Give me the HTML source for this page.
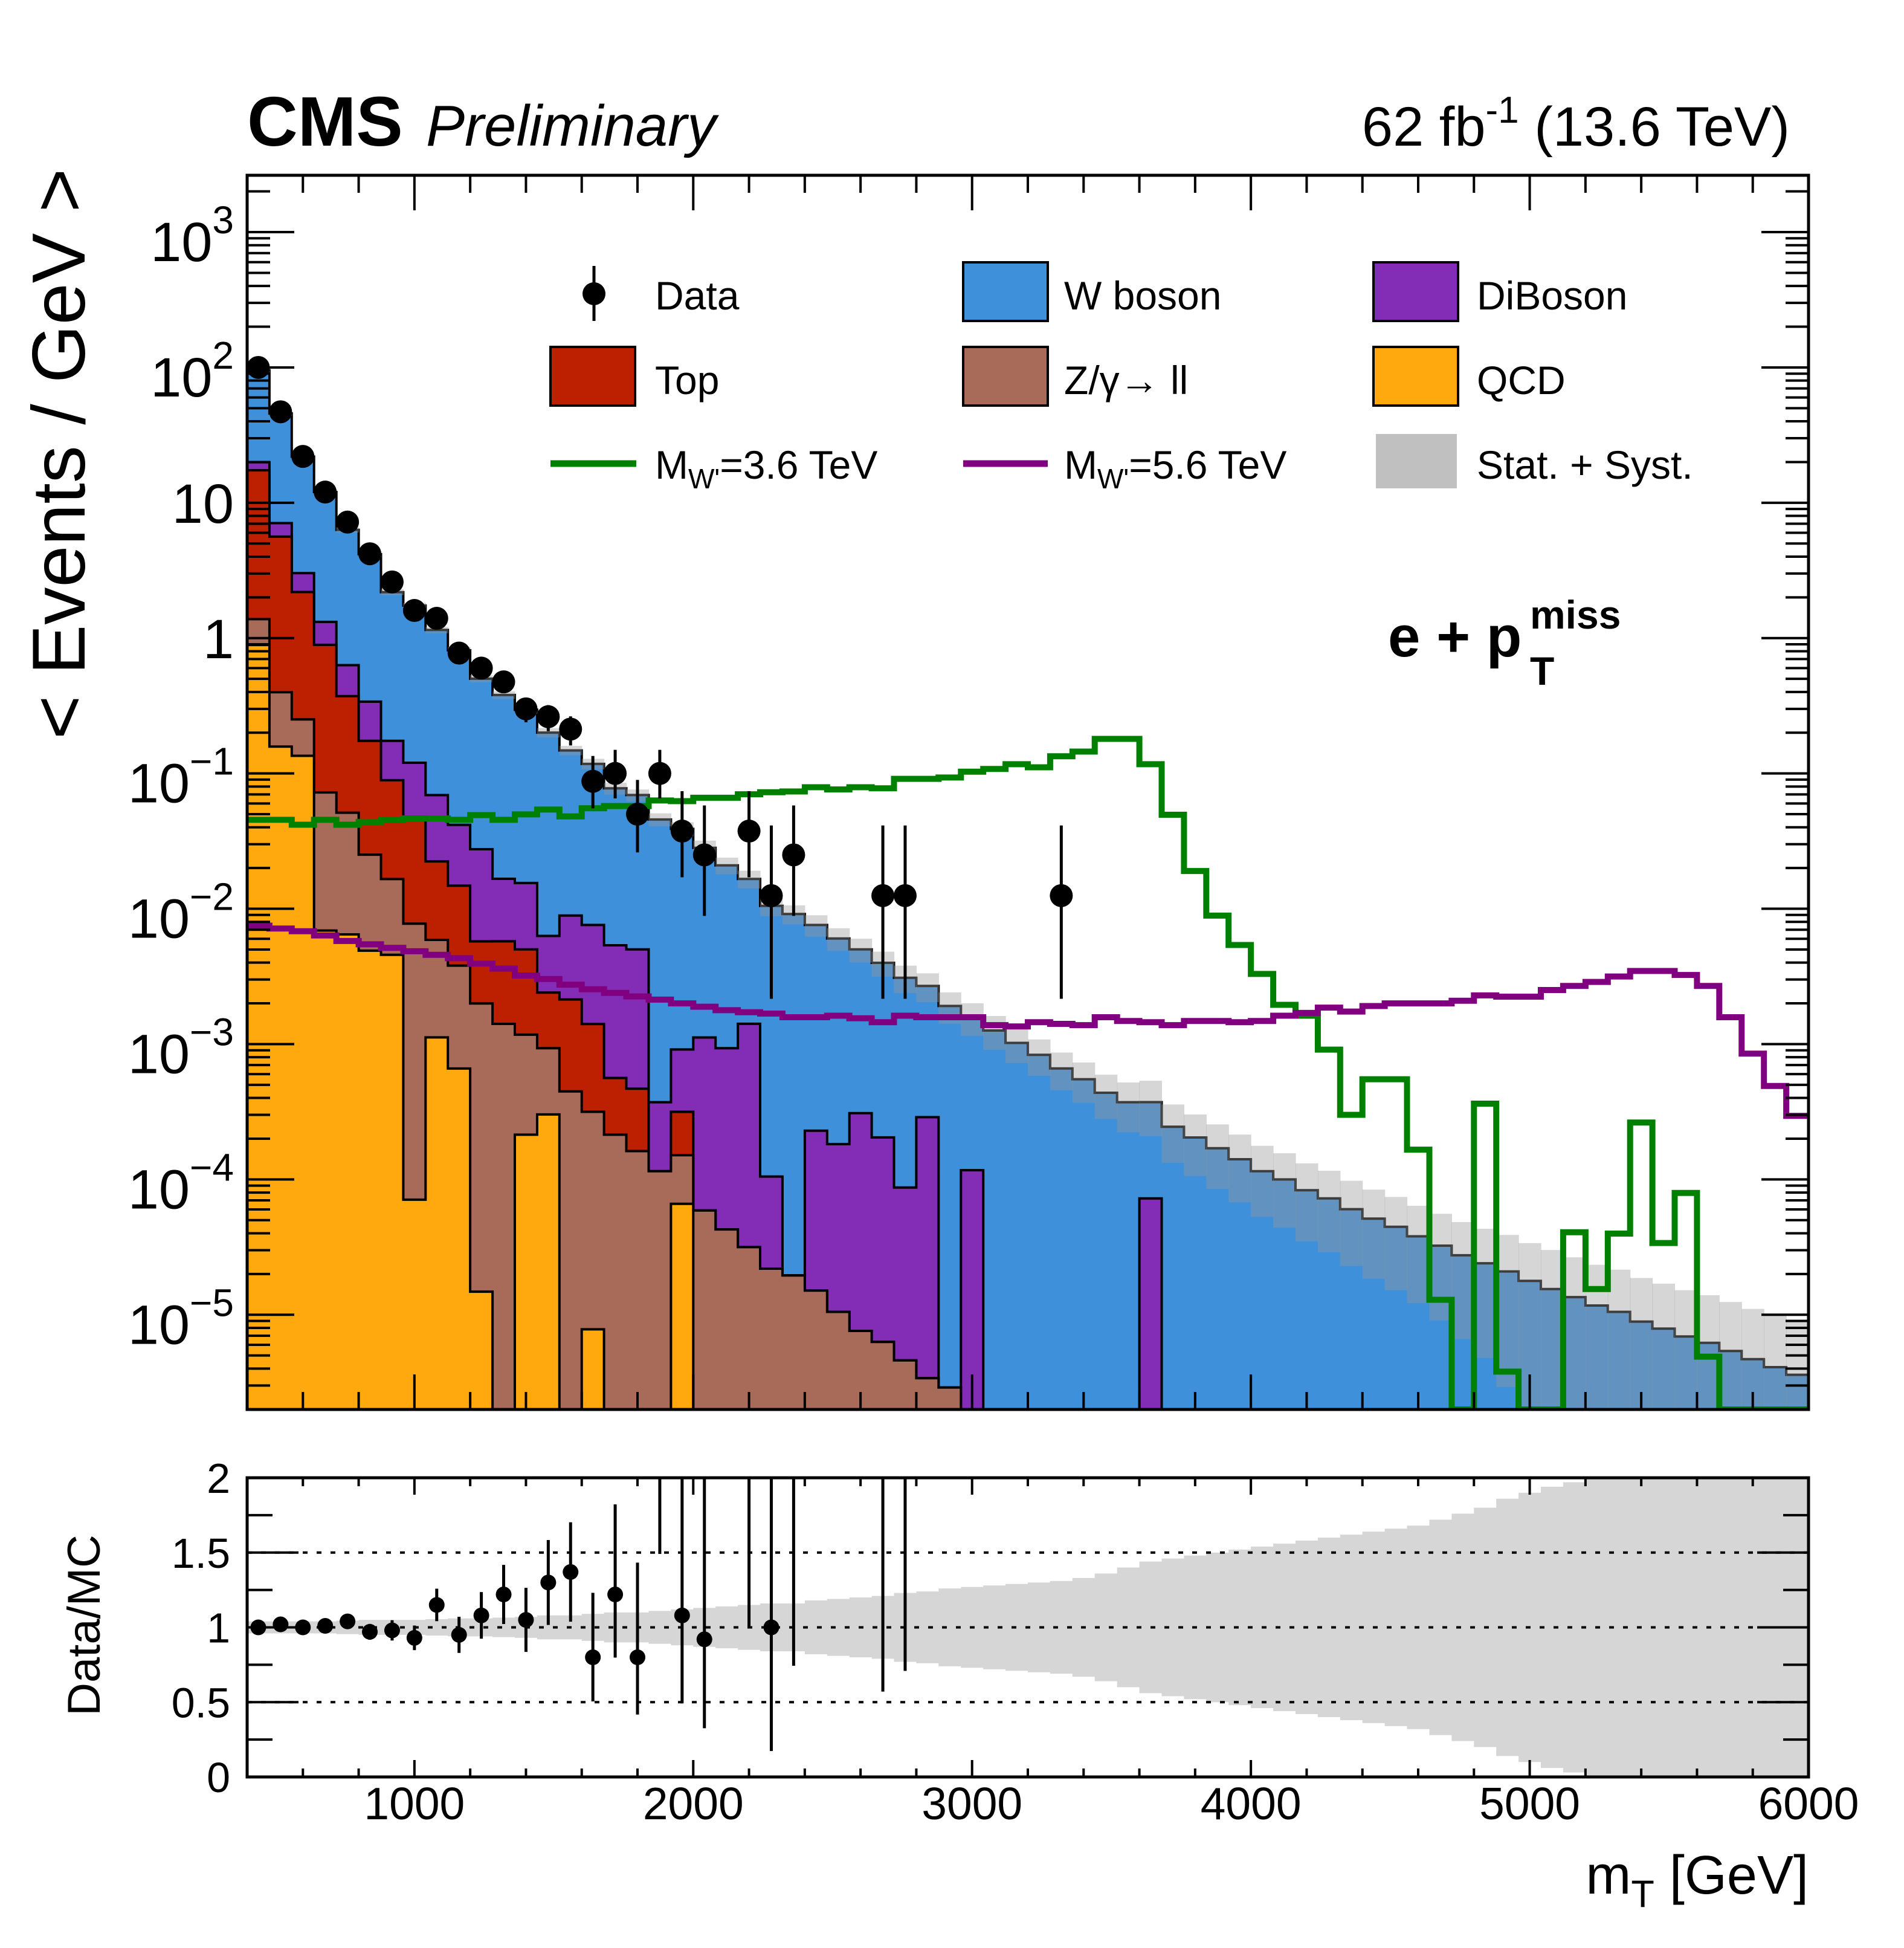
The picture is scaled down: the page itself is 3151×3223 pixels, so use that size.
<!DOCTYPE html>
<html><head><meta charset="utf-8"><title>CMS mT e+MET</title>
<style>
html,body{margin:0;padding:0;background:#fff;}
svg{display:block;font-family:"Liberation Sans",Arial,sans-serif;}
</style></head>
<body>
<svg id="chart" xmlns="http://www.w3.org/2000/svg" width="3151" height="3223" viewBox="0 0 3151 3223">
<defs>
<clipPath id="mainclip"><rect x="409" y="290" width="2584" height="2042"/></clipPath>
<clipPath id="ratioclip"><rect x="409" y="2445" width="2584" height="495"/></clipPath>
</defs>
<rect x="0" y="0" width="3151" height="3223" fill="#fff"/>
<g id="main" clip-path="url(#mainclip)"></g>
<g id="ratio" clip-path="url(#ratioclip)"></g>
<g id="axes"></g>

<text x="409" y="241" font-size="116" font-weight="bold">CMS</text>
<text x="705" y="241" font-size="96" font-style="italic">Preliminary</text>
<text x="2962" y="241" font-size="92" text-anchor="end">62 fb<tspan font-size="62" dy="-38">-1</tspan><tspan dy="38"> (13.6 TeV)</tspan></text>
<text x="2297" y="1086" font-size="96" font-weight="bold">e + p<tspan x="2532" y="1040" font-size="66">miss</tspan><tspan x="2532" y="1133" font-size="66">T</tspan></text>
<text transform="translate(140,751) rotate(-90)" font-size="124" text-anchor="middle">&lt; Events / GeV &gt;</text>
<text transform="translate(165,2689) rotate(-90)" font-size="76" text-anchor="middle">Data/MC</text>
<text x="2993" y="3133" font-size="90" text-anchor="end">m<tspan font-size="63" dy="22">T</tspan><tspan dy="-22"> [GeV]</tspan></text>

<g id="legend">
  <g>
    <line x1="983" y1="440" x2="983" y2="531" stroke="#000" stroke-width="5"/>
    <circle cx="983" cy="486" r="19" fill="#000"/>
    <text x="1084" y="512" font-size="66">Data</text>
  </g>
  <g>
    <rect x="1594" y="434" width="140" height="97" fill="#3f90da" stroke="#000" stroke-width="4"/>
    <text x="1761" y="512" font-size="66">W boson</text>
  </g>
  <g>
    <rect x="2273" y="434" width="140" height="97" fill="#832db6" stroke="#000" stroke-width="4"/>
    <text x="2444" y="512" font-size="66">DiBoson</text>
  </g>
  <g>
    <rect x="911" y="574" width="140" height="97" fill="#bd1f01" stroke="#000" stroke-width="4"/>
    <text x="1084" y="652" font-size="66">Top</text>
  </g>
  <g>
    <rect x="1594" y="574" width="140" height="97" fill="#a96b59" stroke="#000" stroke-width="4"/>
    <text x="1761" y="652" font-size="66">Z/γ→ ll</text>
  </g>
  <g>
    <rect x="2273" y="574" width="140" height="97" fill="#ffa90e" stroke="#000" stroke-width="4"/>
    <text x="2444" y="652" font-size="66">QCD</text>
  </g>
  <g>
    <line x1="911" y1="767" x2="1053" y2="767" stroke="#008000" stroke-width="11"/>
    <text x="1084" y="792" font-size="66">M<tspan font-size="46" dy="16">W'</tspan><tspan dy="-16">=3.6 TeV</tspan></text>
  </g>
  <g>
    <line x1="1594" y1="767" x2="1734" y2="767" stroke="#800080" stroke-width="11"/>
    <text x="1761" y="792" font-size="66">M<tspan font-size="46" dy="16">W'</tspan><tspan dy="-16">=5.6 TeV</tspan></text>
  </g>
  <g>
    <rect x="2277" y="718" width="134" height="90" fill="#c0c0c0"/>
    <text x="2444" y="792" font-size="66">Stat. + Syst.</text>
  </g>
</g>
</svg>

<script>
// ---------- data (80 GeV bins from 400 to 6000) ----------
const binEdgesStart = 400;
const binWidth = 80;
const nBins = 70;
const wboson = [75.5,38.6,18.9,10.7,5.68,3.83,2.01,1.62,1.079,0.771,0.474,0.363,0.28,0.194,0.139,0.11,0.0722,0.0642,0.0453,0.038,0.0271,0.02,0.0152,0.0104,0.00912,0.00736,0.00585,0.0047,0.00378,0.003,0.0024,0.00191,0.00146,0.00126,0.00102,0.000832,0.000661,0.00055,0.000437,0.000372,0.0003,0.000245,0.000204,0.00017,0.000141,0.000115,0.0001,0.0000832,0.0000724,0.0000603,0.0000513,0.0000447,0.000038,0.0000324,0.0000275,0.000024,0.0000209,0.0000178,0.0000155,0.0000135,0.0000117,0.0000105,0.0000089,0.0000079,0.0000069,0.0000062,0.0000054,0.0000047,0.0000041,0.0000036];
const diboson = [2.55,1.46,0.83,0.427,0.259,0.165,0.085,0.072,0.0468,0.0269,0.0218,0.0109,0.0105,0.0039,0.00677,0.00618,0.00481,0.00454,0.000257,0.000596,0.00106,0.00089,0.00138,0.0000831,0,0.000214,0.000172,0.000301,0.000198,0.0000825,0.000285,0,0.000117,0,0,0,0,0,0,0,0.0000724];
const topQuark = [16.0,5.22,1.94,0.819,0.321,0.149,0.0725,0.0401,0.0165,0.011,0.00375,0.00434,0.00384,0.00147,0.00169,0.00109,0.000348,0.000306,0,0.000165];
const zjets = [0.49,0.24,0.116,0.0655,0.0448,0.0202,0.012,0.00769,0.00477,0.00314,0.00198,0.00141,0.00096,0.00063,0.000447,0.000308,0.000214,0.000162,0.000115,0.000085,0.0000589,0.0000427,0.0000316,0.0000219,0.0000195,0.0000151,0.0000105,0.0000076,0.0000063,0.0000046,0.0000034,0.0000029];
const qcd = [0.89,0.158,0.135,0.0069,0.00646,0.0049,0.00457,0.0000708,0.00112,0.00066,0.0000148,0,0.000214,0.000302,0,0.0000078,0,0,0,0.000066];
const dataCounts = [8000,3760,1760,960,576,336,208,128,112,62,48,38,24,21,17,7,8,4,8,3,2,0,3,1,2,0,0,0,1,1,0,0,0,0,0,0,1];
const wprime36 = [0.0454,0.0454,0.0418,0.0454,0.0418,0.0438,0.0454,0.0465,0.0465,0.0454,0.0492,0.0454,0.0498,0.0541,0.0481,0.0553,0.0574,0.0574,0.0631,0.0624,0.0661,0.0661,0.0702,0.0726,0.0736,0.0791,0.0762,0.0791,0.0776,0.0912,0.0912,0.0933,0.103,0.108,0.117,0.111,0.134,0.145,0.18,0.18,0.117,0.0495,0.019,0.0089,0.0054,0.0033,0.00195,0.00162,0.00091,0.0003,0.00055,0.00055,0.000166,0.0000129,0,0.000363,0.0000038,0,0,0.0000407,0.0000155,0.0000398,0.000263,0.0000339,0.0000794,0.0000049,0,0,0,0];
const wprime56 = [0.0075,0.00714,0.00682,0.00635,0.00578,0.00546,0.00514,0.00485,0.00457,0.00431,0.00393,0.00361,0.00321,0.00303,0.00275,0.00254,0.00239,0.00225,0.00213,0.002,0.00189,0.00178,0.00172,0.00168,0.00158,0.00158,0.00162,0.00155,0.00145,0.00162,0.00158,0.00158,0.00158,0.00138,0.00135,0.00145,0.00141,0.00138,0.00158,0.00148,0.00145,0.00138,0.00148,0.00148,0.00145,0.00148,0.00162,0.0017,0.00186,0.00174,0.00191,0.002,0.002,0.002,0.00209,0.00229,0.00224,0.00224,0.00251,0.00269,0.00288,0.00316,0.00347,0.00347,0.00324,0.00269,0.00158,0.00085,0.00049,0.000295];
const relUnc = [0.04,0.04,0.04,0.04,0.045,0.05,0.05,0.05,0.055,0.06,0.06,0.065,0.07,0.08,0.08,0.09,0.1,0.1,0.11,0.12,0.13,0.14,0.15,0.16,0.16,0.18,0.19,0.2,0.21,0.23,0.24,0.26,0.27,0.28,0.29,0.3,0.31,0.33,0.36,0.4,0.44,0.46,0.48,0.5,0.52,0.54,0.56,0.58,0.6,0.62,0.64,0.66,0.68,0.72,0.76,0.8,0.86,0.9,0.94,0.97,1.0,1.05,1.1,1.15,1.2,1.25,1.3,1.35,1.4,1.45];
const ratioValues = [1.0,1.02,1.0,1.01,1.04,0.97,0.98,0.93,1.15,0.95,1.08,1.22,1.05,1.3,1.37,0.8,1.22,0.8,2.28,1.08,0.92,null,2.2,1.0,2.1,null,null,null,3.3,4.1,null,null,null,null,null,null,20];
const xTickLabels = ["1000","2000","3000","4000","5000","6000"];
const yDecades = [3,2,1,0,-1,-2,-3,-4,-5];
const ratioTickLabels = ["0","0.5","1","1.5","2"];
const garwoodLow = [0,0.173,0.708,1.367,2.086,2.840,3.620,4.419,5.232,6.057,6.891];
const garwoodHigh = [1.841,3.300,4.638,5.918,7.163,8.382,9.584,10.77,11.95,13.11,14.27];

// ---------- geometry ----------
const NS = 'http://www.w3.org/2000/svg';
const X0 = 409, X1 = 2993, Y0 = 290, Y1 = 2332, RY0 = 2445, RY1 = 2940;
const LMAX = 3.42, LMIN = -5.70;
const XMIN = 400, XMAX = 6000;
function xp(g){ return X0 + (g - XMIN) / (XMAX - XMIN) * (X1 - X0); }
function yp(v){
  if (!(v > 0)) return Y1 + 20;
  const l = Math.log10(v);
  const y = Y0 + (LMAX - l) / (LMAX - LMIN) * (Y1 - Y0);
  return Math.max(Y0 - 20, Math.min(Y1 + 20, y));
}
function yr(r){ const y = RY1 - (r / 2) * (RY1 - RY0); return Math.max(RY0 - 20, Math.min(RY1 + 20, y)); }
function mk(tag, attrs, parent){
  const e = document.createElementNS(NS, tag);
  for (const k in attrs) e.setAttribute(k, attrs[k]);
  parent.appendChild(e);
  return e;
}
function val(a, i){ return a[i] || 0; }
function lo(i){ return binEdgesStart + binWidth * i; }
function hi(i){ return binEdgesStart + binWidth * (i + 1); }

const gMain = document.getElementById('main');
const gRatio = document.getElementById('ratio');
const gAxes = document.getElementById('axes');

// cumulative stacks
const cumQ = [], cumZ = [], cumT = [], cumD = [], cumW = [];
for (let i = 0; i < nBins; i++) {
  cumQ.push(val(qcd, i));
  cumZ.push(cumQ[i] + val(zjets, i));
  cumT.push(cumZ[i] + val(topQuark, i));
  cumD.push(cumT[i] + val(diboson, i));
  cumW.push(cumD[i] + val(wboson, i));
}
function areaPath(cum){
  let d = 'M' + xp(XMIN) + ',' + (Y1 + 20);
  for (let i = 0; i < nBins; i++) {
    const y = yp(cum[i]);
    d += ' L' + xp(lo(i)).toFixed(1) + ',' + y.toFixed(1) + ' L' + xp(hi(i)).toFixed(1) + ',' + y.toFixed(1);
  }
  d += ' L' + xp(XMAX) + ',' + (Y1 + 20) + ' Z';
  return d;
}
function linePath(arr){
  let d = '';
  for (let i = 0; i < nBins; i++) {
    const y = Math.min(yp(val(arr, i)), Y1);
    d += (i === 0 ? 'M' : ' L') + xp(lo(i)).toFixed(1) + ',' + y.toFixed(1) + ' L' + xp(hi(i)).toFixed(1) + ',' + y.toFixed(1);
  }
  return d;
}

let p;
p = mk('path', {d: areaPath(cumW), fill: '#3f90da', stroke: '#000', 'stroke-width': 4}, gMain);


p = mk('path', {d: areaPath(cumD), fill: '#832db6', stroke: '#000', 'stroke-width': 4}, gMain);


p = mk('path', {d: areaPath(cumT), fill: '#bd1f01', stroke: '#000', 'stroke-width': 4}, gMain);


p = mk('path', {d: areaPath(cumZ), fill: '#a96b59', stroke: '#000', 'stroke-width': 4}, gMain);


p = mk('path', {d: areaPath(cumQ), fill: '#ffa90e', stroke: '#000', 'stroke-width': 4}, gMain);



// uncertainty band (main)
for (let i = 0; i < nBins; i++) {
  const up = cumW[i] * (1 + relUnc[i]);
  const dn = cumW[i] * (1 - relUnc[i]);
  const yt = yp(up), yb = dn > 0 ? yp(dn) : Y1 + 20;
  const r = mk('rect', {x: xp(lo(i)).toFixed(1), y: yt.toFixed(1), width: (xp(hi(i)) - xp(lo(i)) + 0.6).toFixed(1), height: Math.max(0, yb - yt).toFixed(1), fill: 'rgb(152,152,152)', 'fill-opacity': 0.4}, gMain);
  
  
}

// signals
p = mk('path', {d: linePath(wprime36), fill: 'none', stroke: '#008000', 'stroke-width': 10}, gMain);


p = mk('path', {d: linePath(wprime56), fill: 'none', stroke: '#800080', 'stroke-width': 10}, gMain);



// data points
function errN(n){ if (n <= 10) return [n - garwoodLow[n], garwoodHigh[n] - n]; const s = Math.sqrt(n); return [s, s]; }
for (let i = 0; i < nBins; i++) {
  const n = val(dataCounts, i);
  if (n <= 0) continue;
  const v = n / binWidth;
  const e = errN(n);
  const cx = xp((lo(i) + hi(i)) / 2);
  const l = mk('line', {x1: cx, x2: cx, y1: yp((n + e[1]) / binWidth), y2: yp(Math.max(n - e[0], 1e-9) / binWidth), stroke: '#000', 'stroke-width': 5}, gMain);
  
  
  const c = mk('circle', {cx: cx, cy: yp(v), r: 19, fill: '#000'}, gMain);
  
  
}

// ratio band
for (let i = 0; i < nBins; i++) {
  const yt = yr(Math.min(2.1, 1 + relUnc[i])), yb = yr(Math.max(-0.1, 1 - relUnc[i]));
  const r = mk('rect', {x: xp(lo(i)).toFixed(1), y: yt.toFixed(1), width: (xp(hi(i)) - xp(lo(i)) + 0.6).toFixed(1), height: (yb - yt).toFixed(1), fill: '#d6d6d6'}, gRatio);
  
  
}
[0.5, 1, 1.5].forEach(function(rv){
  const l = mk('line', {x1: X0, x2: X1, y1: yr(rv), y2: yr(rv), stroke: '#000', 'stroke-width': 4, 'stroke-dasharray': '8 15'}, gRatio);
  
  
});
for (let i = 0; i < nBins; i++) {
  const r = ratioValues[i];
  const n = val(dataCounts, i);
  if (r === null || r === undefined || n <= 0) continue;
  const e = errN(n);
  const cx = xp((lo(i) + hi(i)) / 2);
  const l = mk('line', {x1: cx, x2: cx, y1: yr(r * (1 + e[1] / n)), y2: yr(r * (1 - e[0] / n)), stroke: '#000', 'stroke-width': 5}, gRatio);
  
  
  const c = mk('circle', {cx: cx, cy: yr(r), r: 13, fill: '#000'}, gRatio);
  
  
}

// ---------- axes ----------
function tick(x1, y1, x2, y2){
  const t = mk('line', {x1: x1, y1: y1, x2: x2, y2: y2, stroke: '#000', 'stroke-width': 4}, gAxes);
  
  
}
for (let g = 400; g <= 6000; g += 200) {
  const x = xp(g), major = (g % 1000 === 0);
  const L = major ? 58 : 29, RL = major ? 28 : 14;
  tick(x, Y1, x, Y1 - L); tick(x, Y0, x, Y0 + L);
  tick(x, RY1, x, RY1 - RL); tick(x, RY0, x, RY0 + RL);
}
xTickLabels.forEach(function(lab){
  const t = mk('text', {x: xp(+lab), y: 3010, 'font-size': 75, 'text-anchor': 'middle'}, gAxes);
  t.textContent = lab;
  
  
});
for (let d = -6; d <= 3; d++) {
  for (let k = 1; k <= 9; k++) {
    const l = d + Math.log10(k);
    if (l < LMIN || l > LMAX) continue;
    const y = yp(Math.pow(10, l));
    const L = k === 1 ? 78 : 38;
    tick(X0, y, X0 + L, y); tick(X1, y, X1 - L, y);
  }
}
yDecades.forEach(function(d){
  const y = yp(Math.pow(10, d));
  const t = mk('text', {x: 387, 'font-size': 92, 'text-anchor': 'end'}, gAxes);
  
  
  if (d === 0 || d === 1) {
    t.setAttribute('y', y + 33);
    t.textContent = d === 0 ? '1' : '10';
  } else {
    t.setAttribute('y', y + 48);
    const b = document.createElementNS(NS, 'tspan'); b.textContent = '10'; t.appendChild(b);
    const s = document.createElementNS(NS, 'tspan');
    s.setAttribute('font-size', 64); s.setAttribute('dy', -46);
    s.textContent = d < 0 ? '\u2212' + (-d) : String(d);
    t.appendChild(s);
  }
});
for (let r = 0; r <= 2.0001; r += 0.25) {
  const major = Math.abs(r * 2 - Math.round(r * 2)) < 1e-6;
  const L = major ? 85 : 42;
  tick(X0, yr(r), X0 + L, yr(r)); tick(X1, yr(r), X1 - L, yr(r));
}
ratioTickLabels.forEach(function(lab){
  const t = mk('text', {x: 381, y: yr(+lab) + 25, 'font-size': 70, 'text-anchor': 'end'}, gAxes);
  t.textContent = lab;
  
  
});
let fr = mk('rect', {x: X0, y: Y0, width: X1 - X0, height: Y1 - Y0, fill: 'none', stroke: '#000', 'stroke-width': 5}, gAxes);


fr = mk('rect', {x: X0, y: RY0, width: X1 - X0, height: RY1 - RY0, fill: 'none', stroke: '#000', 'stroke-width': 5}, gAxes);


</script>
</body></html>
